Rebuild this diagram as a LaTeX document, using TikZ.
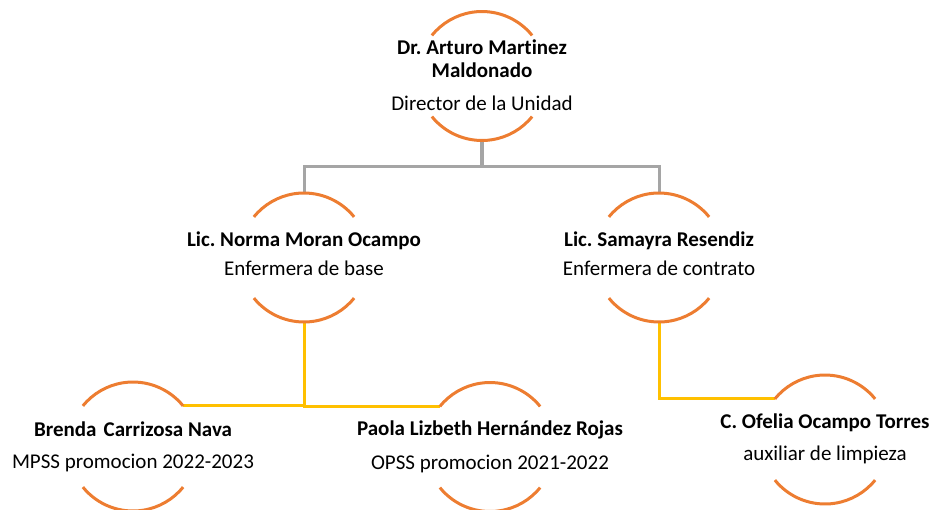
\documentclass[tikz,border=0pt]{standalone}
\usepackage{fontspec}
\setmainfont{Carlito}[Ligatures=NoCommon]
\usetikzlibrary{calc}
\definecolor{arcorange}{HTML}{ED7D31}
\definecolor{linegray}{HTML}{A5A5A5}
\definecolor{lineyellow}{HTML}{FFC000}
\frenchspacing
\begin{document}
\begin{tikzpicture}[x=1pt,y=-1pt,
  ring/.style={circle, minimum size=129pt, inner sep=0pt, outer sep=0pt},
  arcline/.style={draw=arcorange, line width=3pt},
  graylink/.style={draw=linegray, line width=3pt},
  yellowlink/.style={draw=lineyellow, line width=3pt},
  namelbl/.style={font=\fontsize{21}{25}\selectfont\bfseries, anchor=base, inner sep=0pt},
  rolelbl/.style={font=\fontsize{21}{25}\selectfont, anchor=base, inner sep=0pt}]
\useasboundingbox (0,0) rectangle (936,509);
% circles (invisible nodes, arcs drawn below)
\node[ring] (n1) at (482,76) {};
\node[ring] (n2) at (304,257.5) {};
\node[ring] (n3) at (659,257.5) {};
\node[ring] (n4) at (133,446.5) {};
\node[ring] (n5) at (490,447) {};
\node[ring] (n6) at (825,439.5) {};
% connectors
\coordinate (j1) at (482,166);
\draw[graylink, line width=3.5pt] (n1.south) -- (j1);
\draw[graylink] (j1) -| (n2.north);
\draw[graylink] (j1) -| (n3.north);
\draw[yellowlink] (n2.south) |- (n4.39);
\draw[yellowlink] (n2.south) |- (n5.141);
\draw[yellowlink] (n3.south) |- (n6.141);
% arcs
\foreach \n in {n1,n2,n3,n4,n5,n6} {
  \draw[arcline] (\n.39) arc[start angle=39, end angle=141, radius=64.5pt];
  \draw[arcline] (\n.219) arc[start angle=219, end angle=321, radius=64.5pt];
}
% texts
\node[namelbl] (t1a) at (482,54) {Dr. Arturo Martinez};
\node[namelbl] (t1b) at (482,77) {Maldonado};
\node[rolelbl] (t1c) at (482,110) {Director de la Unidad};
\node[namelbl] (t2a) at (304,246) {Lic. Norma Moran Ocampo};
\node[rolelbl] (t2b) at (304,275) {Enfermera de base};
\node[namelbl] (t3a) at (659,246.5) {Lic. Samayra Resendiz};
\node[rolelbl] (t3b) at (659,275) {Enfermera de contrato};
\node[namelbl] (t4a) at (133,436) {Brenda\kern2.5pt{} Carrizosa Nava};
\node[rolelbl] (t4b) at (133,468) {MPSS promocion 2022-2023};
\node[namelbl] (t5a) at (490,435) {Paola Lizbeth Hernández Rojas};
\node[rolelbl] (t5b) at (490,469) {OPSS promocion 2021-2022};
\node[namelbl] (t6a) at (825,428) {C. Ofelia Ocampo Torres};
\node[rolelbl] (t6b) at (825,460) {auxiliar de limpieza};
\end{tikzpicture}
\end{document}
